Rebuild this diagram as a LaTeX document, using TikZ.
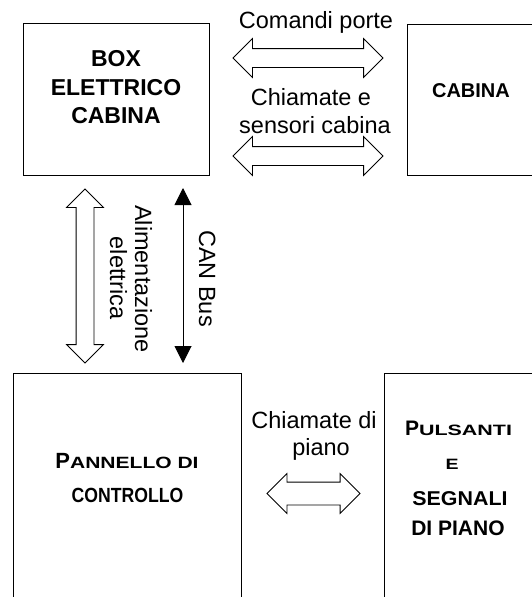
\documentclass[tikz,border=0pt]{standalone}
\usepackage{fontspec}
\setmainfont{Liberation Sans}
\usetikzlibrary{shapes.arrows,arrows.meta}
\begin{document}
\begin{tikzpicture}[x=1pt,y=-1pt,
  blk/.style={draw, line width=1pt, inner sep=0pt},
  dbl/.style={double arrow, draw, line width=0.8pt, fill=white, inner xsep=0pt,
    double arrow tip angle=90, double arrow head indent=0pt},
  reg/.style={anchor=base, inner sep=0pt, font=\fontsize{23.5}{27}\selectfont},
  bl/.style={anchor=base, inner sep=0pt, font=\bfseries\fontsize{23}{27}\selectfont},
]
\useasboundingbox (0,0) rectangle (532,597);
\clip (0,0) rectangle (532,597);
\fill[white] (0,0) rectangle (532,597);

% boxes
\node[blk, minimum width=186pt, minimum height=152pt] (boxel) at (116,99) {};
\node[blk, minimum width=140pt, minimum height=151pt] (cab) at (477,99.5) {};
\node[blk, minimum width=227.5pt, minimum height=250pt] (pan) at (127.25,498) {};
\node[blk, minimum width=160pt, minimum height=250pt] (puls) at (464,498) {};

% box texts
\node[bl] (t1) at (116,66) {BOX};
\node[bl] (t2) at (116,95) {ELETTRICO};
\node[bl] (t3) at (116,123) {CABINA};
\node[bl, font=\bfseries\fontsize{20}{24}\selectfont] (t4) at (471,97) {CABINA};
\node[bl, font=\bfseries\fontsize{22}{26}\selectfont] (t5) at (127,468)
  {P\scalebox{1.29}[1]{\fontsize{16.3}{20}\selectfont ANNELLO DI}};
\node[bl, font=\bfseries\fontsize{20.5}{24}\selectfont] (t6) at (127.5,502) {\scalebox{0.86}[1]{CONTROLLO}};
\node[bl, font=\bfseries\fontsize{21}{25}\selectfont] (t7) at (458.5,435)
  {P\scalebox{1.43}[1]{\fontsize{15}{19}\selectfont ULSANTI}};
\node[bl, font=\bfseries\fontsize{15}{19}\selectfont] (t8) at (452,469) {\scalebox{1.3}[1]{E}};
\node[bl, font=\bfseries\fontsize{20}{24}\selectfont] (t9) at (460,505) {\scalebox{1.07}[1]{SEGNALI}};
\node[bl, font=\bfseries\fontsize{21}{25}\selectfont] (t10) at (458,535) {DI PIANO};

% block arrows
\node[dbl, minimum height=150pt, inner ysep=9pt, double arrow head extend=10pt] (a1) at (308,58) {};
\node[dbl, minimum height=150pt, inner ysep=9pt, double arrow head extend=10pt] (a2) at (308,156) {};
\node[dbl, rotate=90, minimum height=174pt, inner ysep=8.5pt, double arrow head extend=9.5pt] (a3) at (85,276) {};
\node[dbl, minimum height=93pt, inner ysep=11pt, double arrow head extend=8.5pt] (a4) at (313.5,493.5) {};

% CAN bus
\coordinate (cant) at (183,188);
\coordinate (canb) at (183,363);
\draw[line width=1pt, {Triangle[width=17pt,length=17pt]}-{Triangle[width=17pt,length=17pt]}] (cant) -- (canb);

% labels
\node[reg] (l1) at (316,28) {Comandi porte};
\node[reg] (l2) at (311,105) {Chiamate e};
\node[reg] (l3) at (315,133) {sensori cabina};
\node[reg] (l4) at (314,428) {Chiamate di};
\node[reg] (l5) at (321,455) {piano};
\node[reg, rotate=-90] (l6) at (135,279) {Alimentazione};
\node[reg, rotate=-90] (l7) at (110,278) {elettrica};
\node[reg, rotate=-90] (l8) at (199,278.5) {CAN Bus};
\end{tikzpicture}
\end{document}
